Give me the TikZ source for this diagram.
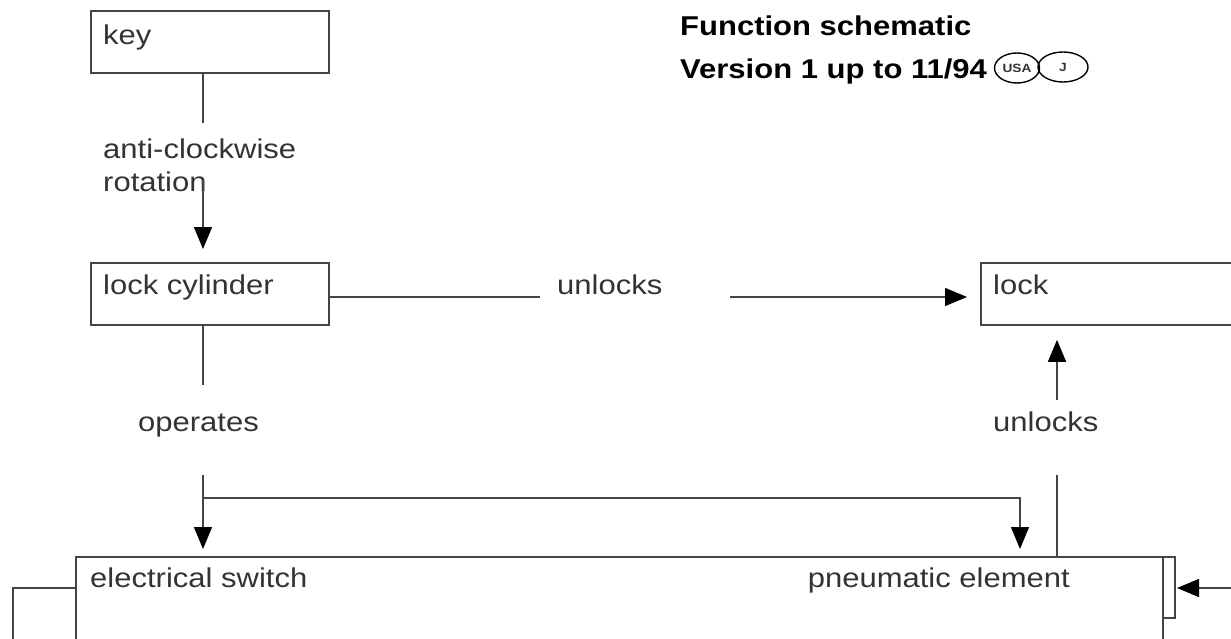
\documentclass[tikz,border=0pt]{standalone}
\usepackage{fontspec}
\setmainfont[FakeStretch=1.14]{Liberation Sans}
\usetikzlibrary{arrows.meta,shapes.geometric}
\definecolor{txt}{HTML}{333333}
\definecolor{ln}{HTML}{444444}
\begin{document}
\begin{tikzpicture}[x=1pt,y=-1pt,
  box/.style={draw=ln,line width=1.8pt,rectangle,inner sep=0pt,anchor=north west},
  lbl/.style={anchor=base west,inner sep=0pt,text=txt,font=\fontsize{27.2}{33}\selectfont},
  ttl/.style={anchor=base west,inner sep=0pt,text=black,font=\fontsize{27.2}{33}\selectfont\bfseries},
  con/.style={draw=ln,line width=1.5pt},
  arr/.style={con,-{Triangle[width=18pt,length=22pt,color=black]}},
  ov/.style={draw=black,line width=1.4pt,ellipse,inner sep=0pt,font=\fontsize{12}{12}\selectfont\bfseries,text=txt},
]
\useasboundingbox (0,0) rectangle (1231,639);
\clip (0,0) rectangle (1231,639);
% boxes
\node[box,minimum width=238pt,minimum height=62pt] (key) at (90,10) {};
\node[box,minimum width=238pt,minimum height=62pt] (cyl) at (90,262) {};
\node[box,minimum width=252pt,minimum height=62pt] (lock) at (980,262) {};
% box labels
\node[lbl] (keyt) at (103,45) {key};
\node[lbl] (cylt) at (103,294) {lock cylinder};
\node[lbl] (lockt) at (993,294) {lock};
\node[lbl] (est) at (90,587) {electrical switch};
\node[lbl,anchor=base east] (pnt) at (1070,587) {pneumatic element};
% title
\node[ttl] (t1) at (680,36) {Function schematic};
\node[ttl] (t2) at (680,79) {Version 1 up to 11/94};
\node[ov,minimum width=45pt,minimum height=30pt] (usa) at (1017,68) {USA};
\node[ov,minimum width=50pt,minimum height=30pt] (jj) at (1063,67) {J};
% key -> cylinder
\node[lbl,align=left,anchor=base west] (acw) at (103,192) {anti-clockwise\\rotation};
\coordinate (k1) at (203,123);
\coordinate (k2) at (203,180);
\draw[con] (key.south -| k1) -- (k1);
\draw[arr,shorten >=13pt] (k2) -- (cyl.north -| k2);
% cylinder -> lock
\node[lbl] (unl1) at (557,294) {unlocks};
\coordinate (u1) at (540,297);
\coordinate (u2) at (730,297);
\draw[con] (cyl.east |- u1) -- (u1);
\draw[arr,shorten >=13pt] (u2) -- (lock.west |- u2);
% operates
\node[lbl] (ops) at (138,431) {operates};
\coordinate (o1) at (203,385);
\coordinate (o2) at (203,475);
\coordinate (o3) at (203,498);
\coordinate (o4) at (1020,498);
\coordinate (esw) at (203,557);
\coordinate (pne) at (1020,557);
\draw[con] (cyl.south -| o1) -- (o1);
\draw[arr,shorten >=8pt] (o2) -- (esw);
\draw[arr,shorten >=8pt] (o3) -- (o4) -- (pne);
% pneumatic unlocks lock
\node[lbl] (unl2) at (993,431) {unlocks};
\coordinate (p1) at (1057,557);
\coordinate (p2) at (1057,475);
\coordinate (p3) at (1057,400);
\draw[con] (p1) -- (p2);
\draw[arr,shorten >=14pt] (p3) -- (lock.south -| p3);
% bottom box
\coordinate (bl) at (76,639);
\coordinate (br) at (1163,639);
\draw[con,line width=1.8pt] (bl) -- (76,557) -- (1175,557) -- (1175,618) -- (1163,618);
\draw[con,line width=1.8pt] (1163,557) -- (br);
% left lead
\coordinate (l1) at (76,588);
\coordinate (l2) at (13,588);
\coordinate (l3) at (13,639);
\draw[con] (l1) -- (l2) -- (l3);
% right input
\coordinate (r1) at (1231,588);
\coordinate (r2) at (1175,588);
\draw[arr,shorten >=2pt] (r1) -- (r2);
\end{tikzpicture}
\end{document}
